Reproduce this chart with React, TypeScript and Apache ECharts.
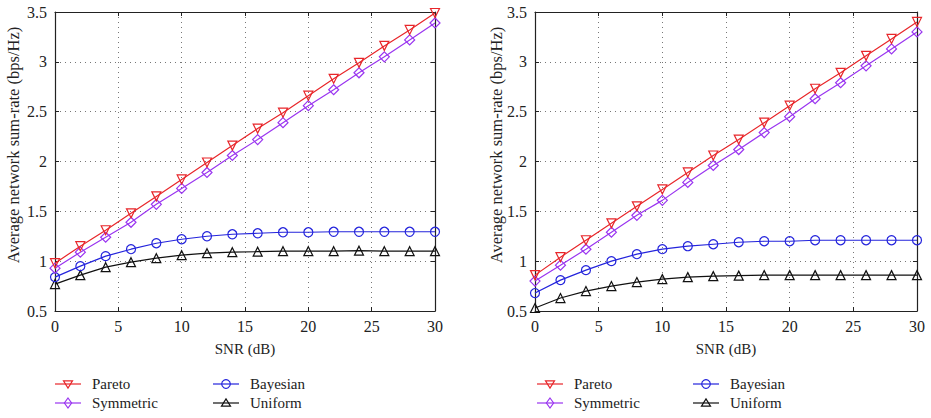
import React, { useEffect, useRef } from "react";
import * as echarts from "echarts";

const snr = [0, 2, 4, 6, 8, 10, 12, 14, 16, 18, 20, 22, 24, 26, 28, 30];

const paretoA = [0.98, 1.15, 1.31, 1.48, 1.65, 1.82, 1.99, 2.16, 2.33, 2.49, 2.66, 2.83, 2.99, 3.16, 3.32, 3.49];
const symmetricA = [0.93, 1.09, 1.24, 1.39, 1.57, 1.73, 1.89, 2.06, 2.22, 2.39, 2.56, 2.72, 2.89, 3.05, 3.22, 3.39];
const bayesianA = [0.84, 0.95, 1.05, 1.12, 1.18, 1.22, 1.25, 1.27, 1.28, 1.29, 1.29, 1.295, 1.295, 1.295, 1.295, 1.295];
const uniformA = [0.77, 0.86, 0.94, 0.99, 1.03, 1.06, 1.08, 1.09, 1.095, 1.1, 1.1, 1.1, 1.105, 1.1, 1.1, 1.1];

const paretoB = [0.86, 1.04, 1.21, 1.38, 1.55, 1.72, 1.89, 2.06, 2.22, 2.39, 2.56, 2.73, 2.89, 3.06, 3.23, 3.4];
const symmetricB = [0.8, 0.96, 1.12, 1.29, 1.46, 1.61, 1.79, 1.96, 2.12, 2.29, 2.45, 2.63, 2.79, 2.96, 3.13, 3.3];
const bayesianB = [0.68, 0.81, 0.91, 1.0, 1.07, 1.12, 1.15, 1.17, 1.19, 1.2, 1.2, 1.21, 1.21, 1.21, 1.21, 1.21];
const uniformB = [0.53, 0.63, 0.7, 0.75, 0.79, 0.82, 0.84, 0.85, 0.855, 0.86, 0.86, 0.86, 0.86, 0.86, 0.86, 0.86];

const seriesNames = ["Pareto", "Symmetric", "Bayesian", "Uniform"];
const xAxisTitle = "SNR (dB)";
const yAxisTitle = "Average network sum-rate (bps/Hz)";
const colors = ["#e8262a", "#9a35f0", "#2424dc", "#111111"];
const symbols = ["triangle", "diamond", "circle", "triangle"];
const rotates = [180, 0, 0, 0];

const FONT = "Liberation Serif, DejaVu Serif, serif";

function markerShape(kind: number, cx: number, cy: number, color: string): any {
  const style = { fill: "none", stroke: color, lineWidth: 1.2 };
  const r = 4.5;
  if (kind === 0) {
    return { type: "polygon", shape: { points: [[cx - r, cy - r * 0.7], [cx + r, cy - r * 0.7], [cx, cy + r * 0.9]] }, style };
  }
  if (kind === 1) {
    return { type: "polygon", shape: { points: [[cx, cy - 5], [cx + 3.6, cy], [cx, cy + 5], [cx - 3.6, cy]] }, style };
  }
  if (kind === 2) {
    return { type: "circle", shape: { cx, cy, r: 4.3 }, style };
  }
  return { type: "polygon", shape: { points: [[cx - r, cy + r * 0.7], [cx + r, cy + r * 0.7], [cx, cy - r * 0.9]] }, style };
}

function legendItems(x: number, y: number, si: number): any[] {
  return [
    { type: "line", shape: { x1: x, y1: y, x2: x + 26, y2: y }, style: { stroke: colors[si], lineWidth: 1.2 } },
    markerShape(si, x + 13, y, colors[si]),
    {
      type: "text",
      x: x + 37,
      y: y,
      style: { text: seriesNames[si], font: "15px " + FONT, fill: "#222", verticalAlign: "middle" },
    },
  ];
}

export default function App() {
  const ref = useRef<HTMLDivElement>(null);
  useEffect(() => {
    if (!ref.current) return;
    const chart = echarts.init(ref.current, undefined, { renderer: "svg" });
    const dataSets = [
      [paretoA, symmetricA, bayesianA, uniformA],
      [paretoB, symmetricB, bayesianB, uniformB],
    ];
    const grids = [
      { left: 55, right: 496, top: 12, height: 299 },
      { left: 535, right: 14, top: 12, height: 299 },
    ];
    const xAxes: any[] = [];
    const yAxes: any[] = [];
    const series: any[] = [];
    grids.forEach((g, gi) => {
      xAxes.push({
        type: "value",
        gridIndex: gi,
        min: 0,
        max: 30,
        interval: 5,
        name: xAxisTitle,
        nameLocation: "middle",
        nameGap: 30,
        nameTextStyle: { fontFamily: FONT, fontSize: 15, color: "#222" },
        axisLine: { show: true, onZero: false, lineStyle: { color: "#222", width: 1.2 } },
        axisTick: { show: true, inside: true, length: 4, lineStyle: { color: "#222" } },
        axisLabel: { fontFamily: FONT, fontSize: 16, color: "#222", margin: 7 },
        splitLine: { show: true, lineStyle: { color: "#777", type: [1, 4], width: 1 } },
      });
      xAxes.push({
        type: "value",
        gridIndex: gi,
        min: 0,
        max: 30,
        interval: 5,
        position: "top",
        axisLine: { show: true, onZero: false, lineStyle: { color: "#222", width: 1.2 } },
        axisTick: { show: true, inside: true, length: 4, lineStyle: { color: "#222" } },
        axisLabel: { show: false },
        splitLine: { show: false },
      });
      yAxes.push({
        type: "value",
        gridIndex: gi,
        min: 0.5,
        max: 3.5,
        interval: 0.5,
        axisLine: { show: true, onZero: false, lineStyle: { color: "#222", width: 1.2 } },
        axisTick: { show: true, inside: true, length: 4, lineStyle: { color: "#222" } },
        axisLabel: { fontFamily: FONT, fontSize: 16, color: "#222", margin: 8 },
        splitLine: { show: true, lineStyle: { color: "#777", type: [1, 4], width: 1 } },
      });
      yAxes.push({
        type: "value",
        gridIndex: gi,
        min: 0.5,
        max: 3.5,
        interval: 0.5,
        position: "right",
        axisLine: { show: true, onZero: false, lineStyle: { color: "#222", width: 1.2 } },
        axisTick: { show: true, inside: true, length: 4, lineStyle: { color: "#222" } },
        axisLabel: { show: false },
        splitLine: { show: false },
      });
      seriesNames.forEach((name, si) => {
        series.push({
          type: "line",
          name,
          xAxisIndex: gi * 2,
          yAxisIndex: gi * 2,
          data: snr.map((x, i) => [x, dataSets[gi][si][i]]),
          symbol: symbols[si],
          symbolRotate: rotates[si],
          symbolSize: si === 1 ? 10 : 9,
          showAllSymbol: true,
          lineStyle: { color: colors[si], width: 1.2 },
          itemStyle: { color: "rgba(255,255,255,0)", borderColor: colors[si], borderWidth: 1.2 },
          emphasis: { disabled: true },
          z: 10 - si,
        });
      });
    });

    const graphics: any[] = [];
    const legendCols = [
      [55, 213],
      [537, 693],
    ];
    legendCols.forEach((cols) => {
      graphics.push(...legendItems(cols[0], 384, 0));
      graphics.push(...legendItems(cols[0], 403, 1));
      graphics.push(...legendItems(cols[1], 384, 2));
      graphics.push(...legendItems(cols[1], 403, 3));
    });
    [13, 496].forEach((x) => {
      graphics.push({
        type: "text",
        x: x,
        y: 145,
        rotation: Math.PI / 2,
        style: { text: yAxisTitle, font: "16.5px " + FONT, fill: "#222", align: "center", verticalAlign: "middle" },
      });
    });

    chart.setOption({
      animation: false,
      backgroundColor: "#fff",
      grid: grids,
      xAxis: xAxes,
      yAxis: yAxes,
      graphic: graphics,
      series,
    });
    return () => chart.dispose();
  }, []);
  return <div ref={ref} style={{ width: 931, height: 418, position: "absolute", left: 0, top: 0 }} />;
}
